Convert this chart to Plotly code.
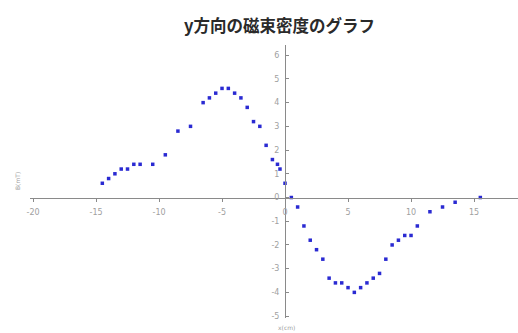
import plotly.graph_objects as go

# Measured flux density (y component) along the x axis
x_pos = [-14.5, -14, -13.5, -13, -12.5, -12, -11.5, -10.5, -9.5, -8.5, -7.5,
         -6.5, -6, -5.5, -5, -4.5, -4, -3.5, -3, -2.5, -2, -1.5, -1, -0.6, -0.4,
         0, 0.5, 1, 1.5, 2, 2.5, 3, 3.5, 4, 4.5, 5, 5.5, 6, 6.5, 7, 7.5, 8,
         8.5, 9, 9.5, 10, 10.5, 11.5, 12.5, 13.5, 15.5]
b_y = [0.6, 0.8, 1.0, 1.2, 1.2, 1.4, 1.4, 1.4, 1.8, 2.8, 3.0,
       4.0, 4.2, 4.4, 4.6, 4.6, 4.4, 4.2, 3.8, 3.2, 3.0, 2.2, 1.6, 1.4, 1.2,
       0.6, 0, -0.4, -1.2, -1.8, -2.2, -2.6, -3.4, -3.6, -3.6, -3.8, -4.0, -3.8, -3.6, -3.4, -3.2, -2.6,
       -2.0, -1.8, -1.6, -1.6, -1.2, -0.6, -0.4, -0.2, 0]

x_ticks = [-20, -15, -10, -5, 0, 5, 10, 15]
x_tick_text = ["-20", "-15", "-10", "-5", "0", "5", "10", "15"]
y_ticks = [-5, -4, -3, -2, -1, 0, 1, 2, 3, 4, 5, 6]
y_tick_text = ["-5", "-4", "-3", "-2", "-1", "0", "1", "2", "3", "4", "5", "6"]

title_text = "y方向の磁束密度のグラフ"
x_title = "x(cm)"
y_title = "B(mT)"

x_range = [-20.24, 18.49]
y_range = [-5.08, 6.43]

# axes cross at the origin
x_axis_pos = (0 - y_range[0]) / (y_range[1] - y_range[0])
y_axis_pos = (0 - x_range[0]) / (x_range[1] - x_range[0])

axis_col = "#8a8a8a"
tick_font = dict(family="DejaVu Sans", size=8, color="#a0a0a0")

fig = go.Figure()
fig.add_trace(go.Scatter(
    x=x_pos, y=b_y, mode="markers",
    marker=dict(symbol="square", size=3.5, color="#2a2ad2", line=dict(width=0)),
    showlegend=False,
))

fig.update_layout(
    width=518, height=333,
    margin=dict(l=30, r=0, t=45, b=15),
    paper_bgcolor="white", plot_bgcolor="white",
    xaxis=dict(range=x_range, anchor="free", position=x_axis_pos,
               showline=True, linecolor=axis_col, linewidth=1,
               showgrid=False, zeroline=False,
               tickmode="array", tickvals=x_ticks, ticktext=x_tick_text,
               ticks="outside", ticklen=3, tickcolor=axis_col,
               tickfont=tick_font, ticklabelstandoff=4),
    yaxis=dict(range=y_range, anchor="free", position=y_axis_pos,
               showline=True, linecolor=axis_col, linewidth=1,
               showgrid=False, zeroline=False,
               tickmode="array", tickvals=y_ticks, ticktext=y_tick_text,
               ticks="inside", ticklen=3, tickcolor=axis_col,
               tickfont=tick_font, ticklabelstandoff=4),
    annotations=[
        dict(text="<b>" + title_text + "</b>", x=279, y=25, showarrow=False,
             font=dict(family="Noto Sans CJK JP", size=16.5, color="#2a2a2a")),
        dict(text=y_title, x=17, y=181, showarrow=False, textangle=-90,
             font=dict(family="DejaVu Sans", size=6, color="#a0a0a0")),
        dict(text=x_title, x=286, y=327, showarrow=False,
             font=dict(family="DejaVu Sans", size=6, color="#a0a0a0")),
    ],
)

# place the free-floating labels in pixel terms
W, H = 518, 333
l, r, t, b = 30, 0, 45, 15
pw, ph = W - l - r, H - t - b
anns = []
for a in fig.layout.annotations:
    a = a.to_plotly_json()
    px, py = a["x"], a["y"]
    a["xref"], a["yref"] = "paper", "paper"
    a["x"] = (px - l) / pw
    a["y"] = 1 - (py - t) / ph
    a["xanchor"], a["yanchor"] = "center", "middle"
    anns.append(a)
fig.update_layout(annotations=anns)

fig.write_html("out.html")
